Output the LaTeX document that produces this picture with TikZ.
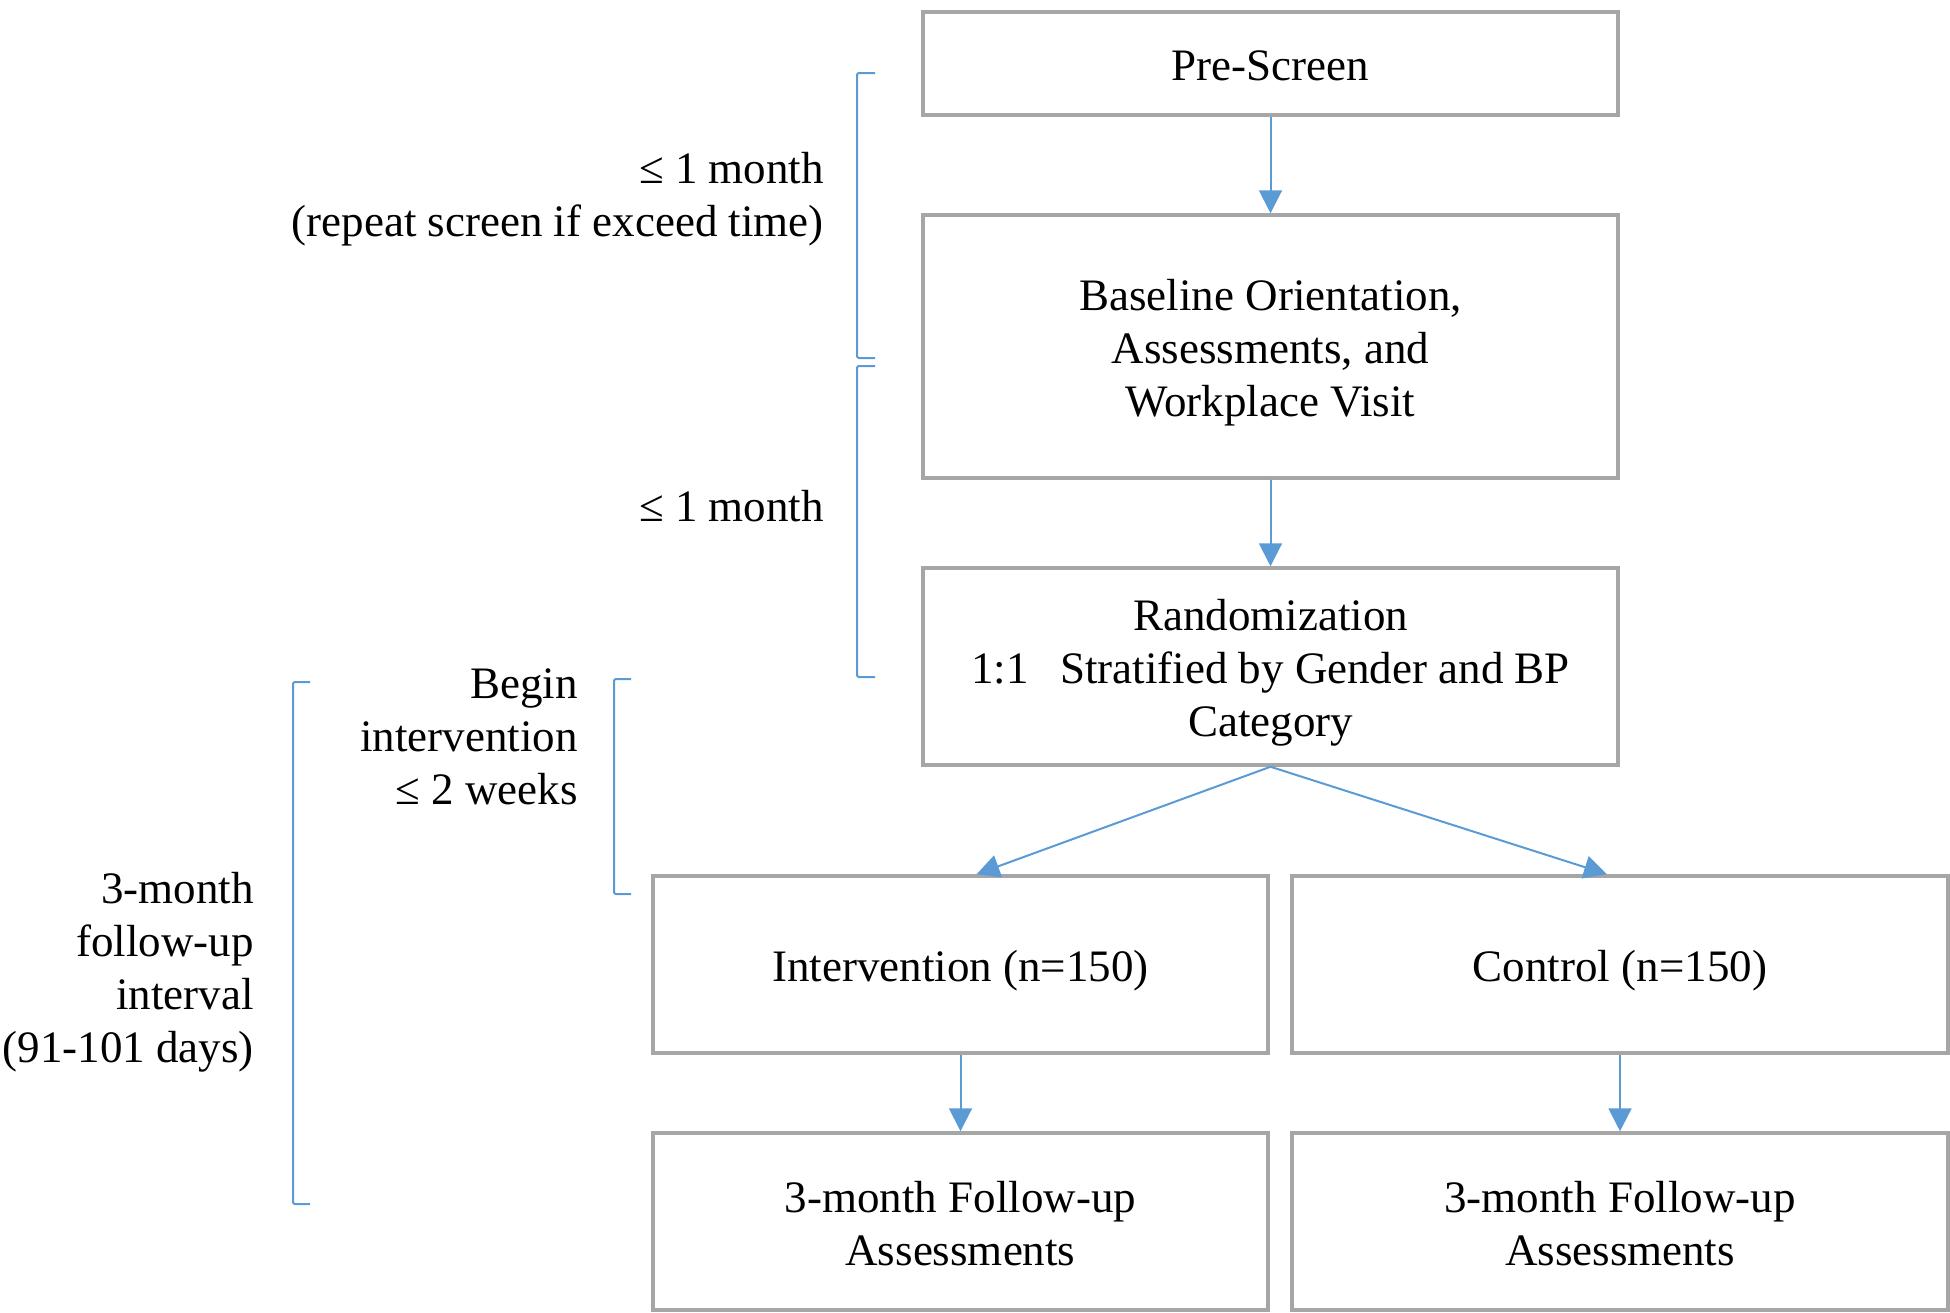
\documentclass[tikz,border=0pt]{standalone}
\usepackage{fontspec}
\setmainfont{Liberation Serif}
\usetikzlibrary{arrows.meta,calc}
\definecolor{boxgray}{HTML}{A6A6A6}
\definecolor{arrowblue}{HTML}{5B9BD5}
\newcommand\diagfont{\fontsize{45}{53}\selectfont}
\begin{document}
\begin{tikzpicture}[x=1pt,y=-1pt,
  box/.style={draw=boxgray, line width=3.5pt, fill=white, inner sep=0pt},
  boxtext/.style={label={[inner sep=0pt, align=center, font=\diagfont, yshift=-6pt]center:#1}},
  boxtexthi/.style={label={[inner sep=0pt, align=center, font=\diagfont, yshift=-2pt]center:#1}},
  lbl/.style={inner sep=0pt, align=right, font=\diagfont},
  arr/.style={draw=arrowblue, line width=2pt, -{Triangle[length=23pt,width=23pt]}},
  brk/.style={draw=arrowblue, line width=2pt, rounded corners=2pt}]
\useasboundingbox (0,0) rectangle (1950,1312);

\node[box, minimum width=695pt, minimum height=103pt, boxtexthi={Pre-Screen}] (pre) at (1270.5,63.5) {};
\node[box, minimum width=695pt, minimum height=263pt, boxtext={Baseline Orientation,\\Assessments, and\\Workplace Visit}] (base) at (1270.5,346.5) {};
\node[box, minimum width=695pt, minimum height=197pt, boxtext={Randomization\\1:1\hspace{0.7em}Stratified by Gender and BP\\Category}] (rand) at (1270.5,666.5) {};
\node[box, minimum width=615pt, minimum height=177pt, boxtext={Intervention (n=150)}] (intv) at (960.5,964.5) {};
\node[box, minimum width=656pt, minimum height=177pt, boxtext={Control (n=150)}] (ctrl) at (1620,964.5) {};
\node[box, minimum width=615pt, minimum height=177pt, boxtexthi={3-month Follow-up\\Assessments}] (fua) at (960.5,1221.5) {};
\node[box, minimum width=656pt, minimum height=177pt, boxtexthi={3-month Follow-up\\Assessments}] (fub) at (1620,1221.5) {};

\draw[arr] (pre.south) -- (pre.south |- base.north);
\draw[arr] (base.south) -- (base.south |- rand.north);
\draw[arr] (rand.south) -- ([xshift=16pt]intv.north);
\draw[arr] (rand.south) -- ([xshift=-13pt]ctrl.north);
\draw[arr] (intv.south) -- (fua.north);
\draw[arr] (ctrl.south) -- (fub.north);

\draw[brk] (875,73) -- (857,73) -- (857,358) -- (875,358);
\draw[brk] (875,366) -- (857,366) -- (857,677) -- (875,677);
\draw[brk] (631,679) -- (614,679) -- (614,894) -- (631,894);
\draw[brk] (310,682) -- (293,682) -- (293,1204) -- (310,1204);

\node[lbl, anchor=east] (l1) at (824,199) {≤ 1 month\\(repeat screen if exceed time)};
\node[lbl, anchor=east] (l2) at (824,506) {≤ 1 month};
\node[lbl, anchor=east] (l3) at (578,737) {Begin\\intervention\\≤ 2 weeks};
\node[lbl, anchor=east] (l4) at (254,972) {3-month\\follow-up\\interval\\(91-101 days)};
\end{tikzpicture}
\end{document}
